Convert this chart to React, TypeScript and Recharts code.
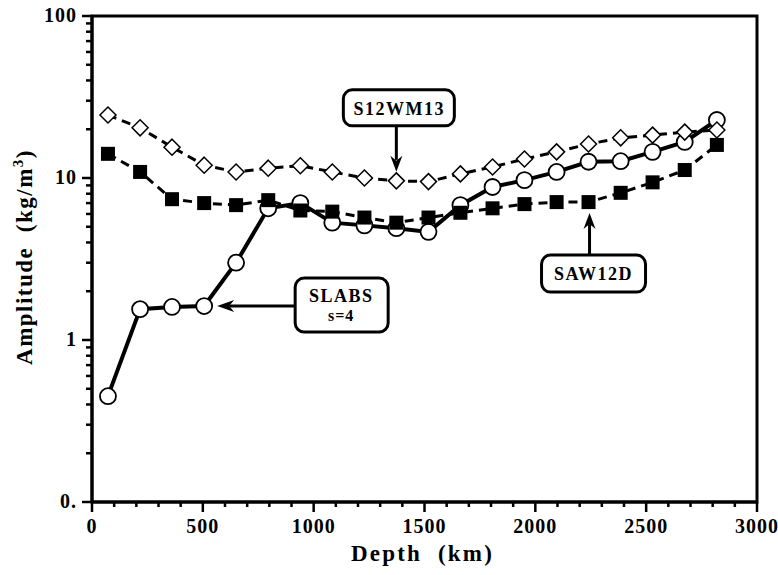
import { LineChart, Line, XAxis, YAxis, ReferenceArea, ReferenceDot } from "recharts";

// depth of each layer midpoint (km)
const depths = [72, 217, 361, 506, 650, 795, 940, 1084, 1229, 1373, 1518, 1662, 1807, 1951, 2096, 2240, 2385, 2529, 2674, 2819];
const slabs = [0.45, 1.55, 1.6, 1.62, 3.0, 6.5, 7.0, 5.3, 5.1, 4.9, 4.65, 6.8, 8.8, 9.7, 10.9, 12.6, 12.7, 14.5, 16.7, 22.8];
const saw12d = [14.1, 10.9, 7.4, 7.0, 6.8, 7.3, 6.3, 6.2, 5.7, 5.3, 5.7, 6.1, 6.5, 6.9, 7.1, 7.1, 8.1, 9.4, 11.2, 16.0];
const s12wm13 = [24.5, 20.4, 15.5, 12.0, 10.9, 11.5, 11.9, 10.9, 10.0, 9.6, 9.5, 10.6, 11.7, 13.1, 14.5, 16.2, 17.7, 18.4, 19.2, 19.8];

const xTicks = Array.from({ length: 31 }, (_, i) => i * 100);
const yMajor = [0.1, 1, 10, 100];
const yMajorLabels = ["0.", "1", "10", "100"];
const yTicks = [0.1, 1, 10]
	.flatMap((d) => [1, 2, 3, 4, 5, 6, 7, 8, 9].map((m) => Number((d * m).toPrecision(2))))
	.concat([100]);

const data = depths.map((depth, i) => ({
	depth,
	slabs: slabs[i],
	saw12d: saw12d[i],
	s12wm13: s12wm13[i],
}));

const FONT = '"Liberation Serif", "Times New Roman", serif';
const textStyle = { fontFamily: FONT, fontWeight: "bold" as const, fill: "#000" };

function XTick({ x, y, payload }: any) {
	const v = payload.value;
	const major = v % 500 === 0;
	return (
		<g>
			<line x1={x} x2={x} y1={y} y2={y + (major ? 10 : 5)} stroke="#000" strokeWidth={2.5} />
			{major && (
				<text x={x} y={y + 31} textAnchor="middle" fontSize={20} letterSpacing={1} {...textStyle}>
					{v}
				</text>
			)}
		</g>
	);
}

function YTick({ x, y, payload }: any) {
	const idx = yMajor.findIndex((m) => Math.abs(m - payload.value) < 1e-9);
	const major = idx >= 0;
	return (
		<g>
			<line x1={x} x2={x - (major ? 10 : 6)} y1={y} y2={y} stroke="#000" strokeWidth={2.5} />
			{major && (
				<text x={x - 15} y={y + 6} textAnchor="end" fontSize={20} letterSpacing={1} {...textStyle}>
					{yMajorLabels[idx]}
				</text>
			)}
		</g>
	);
}

const Diamond = ({ cx, cy }: any) => (
	<polygon
		points={`${cx},${cy - 8} ${cx + 8},${cy} ${cx},${cy + 8} ${cx - 8},${cy}`}
		fill="#fff"
		stroke="#000"
		strokeWidth={1.5}
	/>
);
const Square = ({ cx, cy }: any) => <rect x={cx - 7} y={cy - 7} width={14} height={14} fill="#000" />;
const Circle = ({ cx, cy }: any) => <circle cx={cx} cy={cy} r={8} fill="#fff" stroke="#000" strokeWidth={1.8} />;

function S12Callout({ cx, cy }: any) {
	return (
		<g>
			<line x1={cx} x2={cx} y1={cy - 55} y2={cy - 21} stroke="#000" strokeWidth={3} />
			<polygon points={`${cx},${cy - 9} ${cx - 6},${cy - 25} ${cx},${cy - 20} ${cx + 6},${cy - 25}`} fill="#000" />
			<rect x={cx - 53} y={cy - 91} width={111} height={36} rx={9} fill="#fff" stroke="#000" strokeWidth={3} />
			<text x={cx + 3} y={cy - 66} textAnchor="middle" fontSize={18} letterSpacing={1.5} {...textStyle}>
				S12WM13
			</text>
		</g>
	);
}

function SawCallout({ cx, cy }: any) {
	const ax = cx + 1;
	return (
		<g>
			<line x1={ax} x2={ax} y1={cy + 53} y2={cy + 22} stroke="#000" strokeWidth={3} />
			<polygon points={`${ax},${cy + 11} ${ax - 6},${cy + 27} ${ax},${cy + 22} ${ax + 6},${cy + 27}`} fill="#000" />
			<rect x={cx - 47} y={cy + 53} width={104} height={37} rx={9} fill="#fff" stroke="#000" strokeWidth={3} />
			<text x={cx + 5} y={cy + 78} textAnchor="middle" fontSize={18} letterSpacing={1.5} {...textStyle}>
				SAW12D
			</text>
		</g>
	);
}

function SlabsCallout({ cx, cy }: any) {
	return (
		<g>
			<line x1={cx + 91} x2={cx + 25} y1={cy} y2={cy} stroke="#000" strokeWidth={3} />
			<polygon points={`${cx + 13},${cy} ${cx + 30},${cy - 6} ${cx + 25},${cy} ${cx + 30},${cy + 6}`} fill="#000" />
			<rect x={cx + 91} y={cy - 28} width={93} height={54} rx={9} fill="#fff" stroke="#000" strokeWidth={3} />
			<text x={cx + 137} y={cy - 4} textAnchor="middle" fontSize={18} letterSpacing={1.5} {...textStyle}>
				SLABS
			</text>
			<text x={cx + 137} y={cy + 15} textAnchor="middle" fontSize={16} letterSpacing={1} {...textStyle}>
				s=4
			</text>
		</g>
	);
}

export default function App() {
	return (
		<div style={{ position: "absolute", left: 0, top: 0, background: "#fff" }}>
			<LineChart width={778} height={575} data={data} margin={{ top: 16, right: 21, bottom: 0, left: 0 }}>
				<XAxis
					dataKey="depth"
					type="number"
					domain={[0, 3000]}
					ticks={xTicks}
					interval={0}
					tick={<XTick />}
					tickLine={false}
					tickSize={0}
					tickMargin={0}
					height={73}
					axisLine={{ stroke: "#000", strokeWidth: 3 }}
					label={{
						content: ({ viewBox }: any) => (
							<text
								x={viewBox.x + viewBox.width / 2 - 2}
								y={viewBox.y + 59}
								textAnchor="middle"
								fontSize={23}
								letterSpacing={2.2}
								style={{ whiteSpace: "pre" }}
								{...textStyle}
							>
								{"Depth  (km)"}
							</text>
						),
					}}
				/>
				<YAxis
					type="number"
					scale="log"
					domain={[0.1, 100]}
					allowDataOverflow
					ticks={yTicks}
					interval={0}
					tick={<YTick />}
					tickLine={false}
					tickSize={0}
					tickMargin={0}
					width={92}
					axisLine={{ stroke: "#000", strokeWidth: 3 }}
					label={{
						content: () => (
							<text
								transform="translate(32, 257) rotate(-90)"
								textAnchor="middle"
								fontSize={23}
								letterSpacing={1.5}
								style={{ whiteSpace: "pre" }}
								{...textStyle}
							>
								{"Amplitude  (kg/m"}
								<tspan dy={-9} fontSize={15}>
									3
								</tspan>
								<tspan dy={9}>)</tspan>
							</text>
						),
					}}
				/>
				<ReferenceArea x1={0} x2={3000} y1={0.1} y2={100} fill="none" stroke="#000" strokeWidth={3} />
				<Line
					dataKey="slabs"
					stroke="#000"
					strokeWidth={4}
					dot={<Circle />}
					activeDot={false}
					isAnimationActive={false}
				/>
				<Line
					dataKey="saw12d"
					stroke="#000"
					strokeWidth={3}
					strokeDasharray="9 6"
					dot={<Square />}
					activeDot={false}
					isAnimationActive={false}
				/>
				<Line
					dataKey="s12wm13"
					stroke="#000"
					strokeWidth={3}
					strokeDasharray="9 6"
					dot={<Diamond />}
					activeDot={false}
					isAnimationActive={false}
				/>
				<ReferenceDot x={depths[9]} y={s12wm13[9]} shape={<S12Callout />} />
				<ReferenceDot x={depths[15]} y={saw12d[15]} shape={<SawCallout />} />
				<ReferenceDot x={depths[3]} y={slabs[3]} shape={<SlabsCallout />} />
			</LineChart>
		</div>
	);
}
